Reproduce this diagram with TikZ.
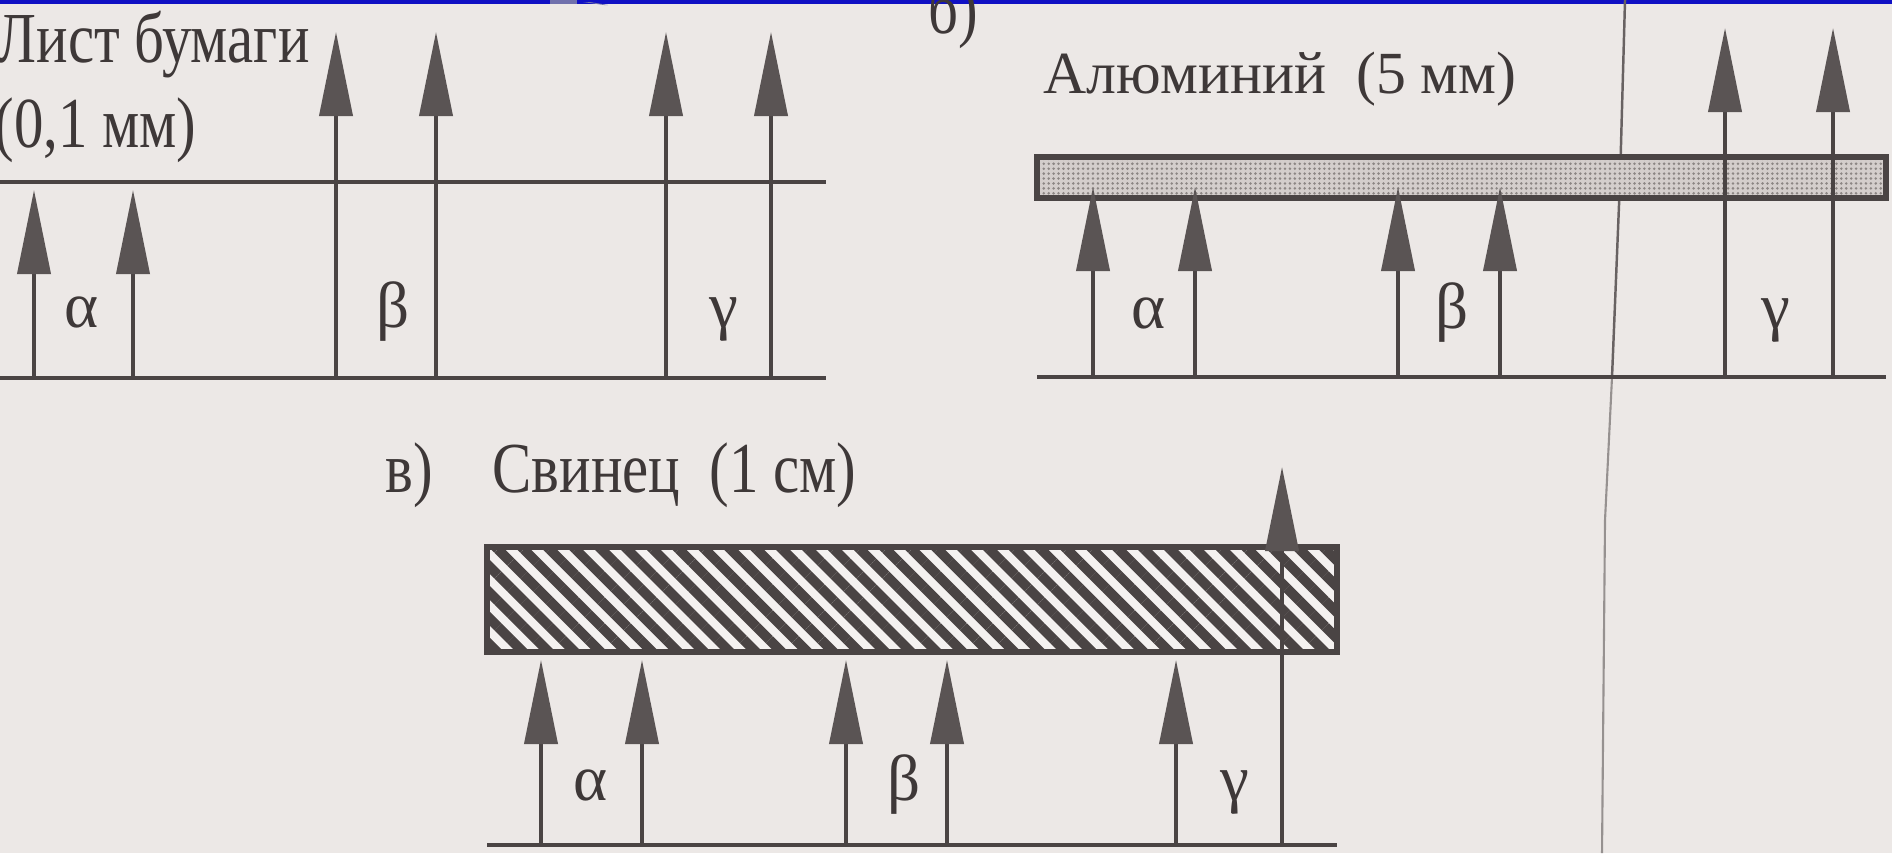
\documentclass[tikz,border=0pt]{standalone}
\usepackage{fontspec}
\setmainfont{Liberation Serif}
\newfontfamily\condfont[FakeStretch=0.82]{Liberation Serif}
\usetikzlibrary{arrows.meta,patterns.meta}
\definecolor{paper}{RGB}{236,232,230}
\definecolor{ink}{RGB}{74,68,68}
\definecolor{textc}{RGB}{62,56,56}
\definecolor{headc}{RGB}{90,84,84}
\definecolor{alu}{RGB}{212,206,204}
\definecolor{aludot}{RGB}{140,134,132}
\definecolor{slide}{RGB}{16,16,196}
\definecolor{smudge}{RGB}{112,112,172}
\definecolor{foldc}{RGB}{104,98,98}
\begin{document}
\begin{tikzpicture}[x=0.01cm,y=-0.01cm,
  ray/.style={draw=ink,line width=1.1pt,-{Triangle[length=8.4mm,width=3.3mm,color=headc]}},
  rule/.style={draw=ink,line width=1.4pt},
  barline/.style={draw=ink,line width=1.6pt},
  lbl/.style={text=textc,inner sep=0pt,anchor=base west,font=\condfont\fontsize{20.4}{24}\selectfont},
  greek/.style={text=textc,inner sep=0pt,anchor=base,font=\fontsize{18.5}{22}\selectfont},
]
\useasboundingbox (0,0) rectangle (1892,853);
\fill[paper] (0,0) rectangle (1892,853);
% slide frame remnant at the top
\fill[slide] (0,0) rectangle (1892,4);
\fill[smudge] (550,0) rectangle (577,4);
\fill[smudge] (583,2) -- (590,2) -- (608,5) -- (604,5) -- cycle;
% paper fold line
\draw[foldc,line width=0.7pt] (1625,0) -- (1620,180) -- (1612,377);
\draw[foldc!65!paper,line width=0.6pt] (1612,377) -- (1605,520) -- (1602,853);

% ---------- panel a: paper ----------
\node[lbl] (paperA) at (-4,62) {Лист бумаги};
\node[lbl] (paperB) at (-6,147) {(0,1 мм)};
\coordinate (aTL) at (0,182);  \coordinate (aTR) at (826,182);
\coordinate (aBL) at (0,378);  \coordinate (aBR) at (826,378);
\draw[rule] (aTL) -- (aTR);
\draw[rule] (aBL) -- (aBR);
\draw[ray] (34,378) -- (34,190);
\draw[ray] (133,378) -- (133,190);
\draw[ray] (336,378) -- (336,32);
\draw[ray] (436,378) -- (436,32);
\draw[ray] (666,378) -- (666,32);
\draw[ray] (771,378) -- (771,32);
\node[greek] (alA) at (82,327) {α};
\node[greek] (beA) at (393,327) {β};
\node[greek] (gaA) at (724,327) {γ};

% ---------- panel b: aluminium ----------
\node[lbl] (bLab) at (928,33) {б)};
\node[lbl,font=\fontsize{17}{20}\selectfont] (aluT) at (1043,93) {Алюминий\ \ (5 мм)};
\fill[alu] (1037,157) rectangle (1886,198);
\fill[pattern={Dots[distance=1.4pt,radius=0.4pt]},pattern color=aludot] (1037,157) rectangle (1886,198);
\draw[barline] (1037,157) rectangle (1886,198);
\coordinate (bBL) at (1037,377); \coordinate (bBR) at (1886,377);
\draw[rule] (bBL) -- (bBR);
\draw[ray] (1093,377) -- (1093,187);
\draw[ray] (1195,377) -- (1195,187);
\draw[ray] (1398,377) -- (1398,187);
\draw[ray] (1500,377) -- (1500,187);
\draw[ray] (1725,377) -- (1725,28);
\draw[ray] (1833,377) -- (1833,28);
\node[greek] (alB) at (1149,328) {α};
\node[greek] (beB) at (1452,328) {β};
\node[greek] (gaB) at (1776,328) {γ};

% ---------- panel c: lead ----------
\node[lbl] (cLab) at (385,492) {в)};
\node[lbl] (leadT) at (492,492) {Свинец\ \ (1 см)};
\fill[white!40!paper] (487,547) rectangle (1337,652);
\fill[pattern={Lines[angle=-45,distance=5.2pt,line width=2.8pt]},pattern color=ink] (487,547) rectangle (1337,652);
\draw[barline] (487,547) rectangle (1337,652);
\coordinate (cBL) at (487,845); \coordinate (cBR) at (1337,845);
\draw[rule] (cBL) -- (cBR);
\draw[ray] (541,845) -- (541,660);
\draw[ray] (642,845) -- (642,660);
\draw[ray] (846,845) -- (846,660);
\draw[ray] (947,845) -- (947,660);
\draw[ray] (1176,845) -- (1176,660);
\draw[ray] (1282,845) -- (1282,467);
\node[greek] (alC) at (591,800) {α};
\node[greek] (beC) at (904,800) {β};
\node[greek] (gaC) at (1235,800) {γ};
\end{tikzpicture}
\end{document}
